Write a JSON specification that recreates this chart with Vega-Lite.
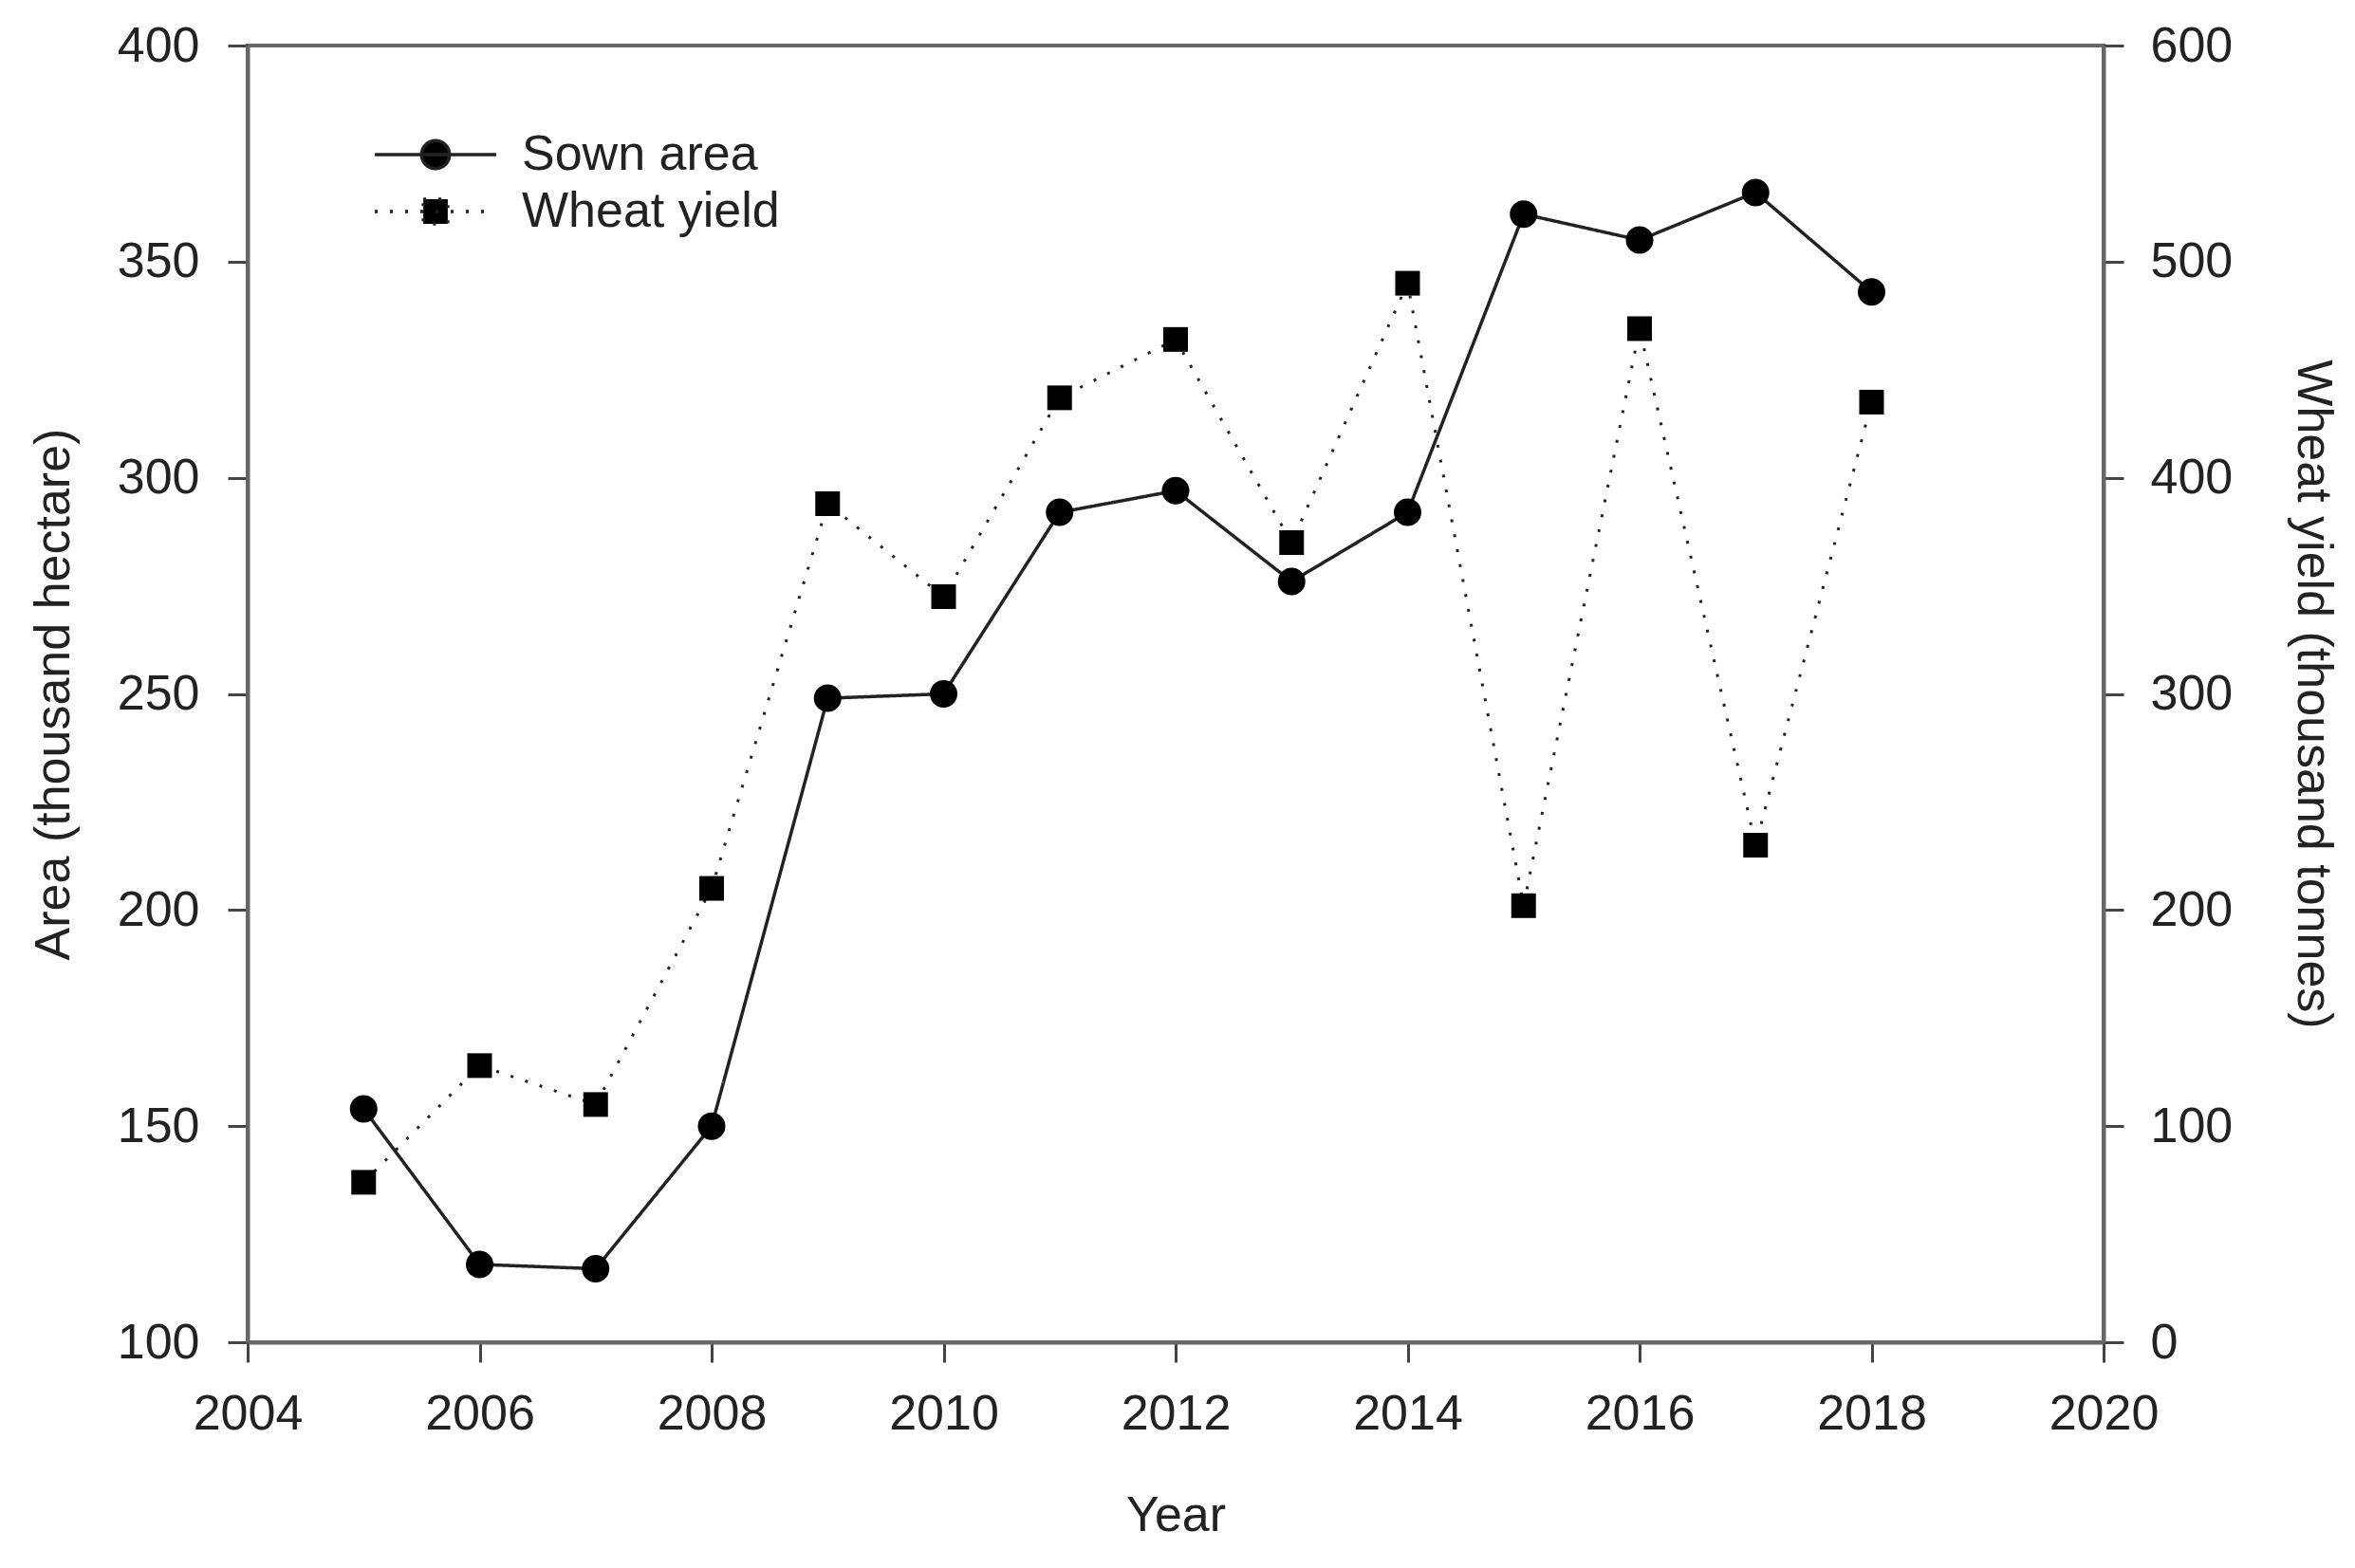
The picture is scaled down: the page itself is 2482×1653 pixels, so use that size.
{
  "$schema": "https://vega.github.io/schema/vega-lite/v6.json",
  "width": 1956,
  "height": 1367,
  "autosize": {"type": "none"},
  "padding": {"left": 261, "top": 48, "right": 265, "bottom": 238},
  "background": "white",
  "config": {
    "font": "Liberation Sans",
    "view": {"stroke": "#666666", "strokeWidth": 4},
    "axis": {
      "grid": false,
      "domainColor": "#666666",
      "domainWidth": 4,
      "tickColor": "#444444",
      "tickWidth": 3,
      "tickSize": 21,
      "labelFontSize": 52,
      "labelColor": "#222222",
      "labelPadding": 26,
      "labelFlush": false,
      "labelOverlap": false,
      "titleFontSize": 52,
      "titleFontWeight": "normal",
      "titleColor": "#222222"
    },
    "legend": {"labelFontSize": 52, "labelColor": "#222222", "labelLimit": 0}
  },
  "data": {
    "values": [
      {"year": 2005, "series": "Sown area", "value": 154},
      {"year": 2006, "series": "Sown area", "value": 118},
      {"year": 2007, "series": "Sown area", "value": 117},
      {"year": 2008, "series": "Sown area", "value": 150},
      {"year": 2009, "series": "Sown area", "value": 249},
      {"year": 2010, "series": "Sown area", "value": 250},
      {"year": 2011, "series": "Sown area", "value": 292},
      {"year": 2012, "series": "Sown area", "value": 297},
      {"year": 2013, "series": "Sown area", "value": 276},
      {"year": 2014, "series": "Sown area", "value": 292},
      {"year": 2015, "series": "Sown area", "value": 361},
      {"year": 2016, "series": "Sown area", "value": 355},
      {"year": 2017, "series": "Sown area", "value": 366},
      {"year": 2018, "series": "Sown area", "value": 343},
      {"year": 2005, "series": "Wheat yield", "value": 74},
      {"year": 2006, "series": "Wheat yield", "value": 128},
      {"year": 2007, "series": "Wheat yield", "value": 110},
      {"year": 2008, "series": "Wheat yield", "value": 210},
      {"year": 2009, "series": "Wheat yield", "value": 388},
      {"year": 2010, "series": "Wheat yield", "value": 345},
      {"year": 2011, "series": "Wheat yield", "value": 437},
      {"year": 2012, "series": "Wheat yield", "value": 464},
      {"year": 2013, "series": "Wheat yield", "value": 370},
      {"year": 2014, "series": "Wheat yield", "value": 490},
      {"year": 2015, "series": "Wheat yield", "value": 202},
      {"year": 2016, "series": "Wheat yield", "value": 469},
      {"year": 2017, "series": "Wheat yield", "value": 230},
      {"year": 2018, "series": "Wheat yield", "value": 435}
    ]
  },
  "encoding": {
    "x": {
      "field": "year",
      "type": "quantitative",
      "scale": {"domain": [2004, 2020], "nice": false, "zero": false},
      "axis": {"title": "Year", "values": [2004, 2006, 2008, 2010, 2012, 2014, 2016, 2018, 2020], "format": "d", "labelPadding": 29, "titlePadding": 56}
    }
  },
  "layer": [
    {
      "transform": [{"filter": "datum.series === 'Wheat yield'"}],
      "encoding": {
        "y": {
          "field": "value",
          "type": "quantitative",
          "scale": {"domain": [0, 600], "nice": false},
          "axis": {"orient": "right", "title": "Wheat yield (thousand tonnes)", "values": [0, 100, 200, 300, 400, 500, 600], "labelPadding": 28, "titlePadding": 58}
        }
      },
      "layer": [
        {
          "mark": {"type": "line", "color": "#222222", "strokeWidth": 3},
          "encoding": {
            "strokeDash": {
              "field": "series",
              "type": "nominal",
              "scale": {"domain": ["Sown area", "Wheat yield"], "range": [[1, 0], [3, 13]]},
              "legend": {
                "orient": "none",
                "legendX": 172,
                "legendY": 89,
                "title": null,
                "padding": 0,
                "rowPadding": 8,
                "symbolSize": 784,
                "labelOffset": 65,
                "symbolStrokeWidth": 3.5,
                "symbolStrokeColor": "#222222",
                "symbolFillColor": "black",
                "symbolType": "circle",
                "encode": {
                  "symbols": {
                    "update": {
                      "shape": {"signal": "datum.value === 'Sown area' ? 'M-4.57,0H4.57M1.05,0A1.05,1.05 0 1,1 -1.05,0A1.05,1.05 0 1,1 1.05,0Z' : 'M-4.57,0H4.57M-0.92,-0.92H0.92V0.92H-0.92Z'"},
                      "fill": {"value": "black"},
                      "stroke": {"value": "#222222"},
                      "strokeWidth": {"value": 3.5},
                      "strokeOpacity": {"value": 1},
                      "opacity": {"value": 1},
                      "strokeDash": {"signal": "datum.value === 'Sown area' ? [1, 0] : [3, 13]"}
                    }
                  }
                }
              }
            }
          }
        },
        {
          "mark": {"type": "point", "shape": "square", "filled": true, "color": "black", "opacity": 1, "size": 676}
        }
      ]
    },
    {
      "transform": [{"filter": "datum.series === 'Sown area'"}],
      "encoding": {
        "y": {
          "field": "value",
          "type": "quantitative",
          "scale": {"domain": [100, 400], "nice": false, "zero": false},
          "axis": {"orient": "left", "title": "Area (thousand hectare)", "values": [100, 150, 200, 250, 300, 350, 400], "labelPadding": 30, "titlePadding": 40}
        }
      },
      "layer": [
        {
          "mark": {"type": "line", "color": "#222222", "strokeWidth": 3.5},
          "encoding": {
            "strokeDash": {"field": "series", "type": "nominal"}
          }
        },
        {
          "mark": {"type": "point", "shape": "circle", "filled": true, "color": "black", "opacity": 1, "size": 841}
        }
      ]
    }
  ],
  "resolve": {"scale": {"y": "independent"}}
}
